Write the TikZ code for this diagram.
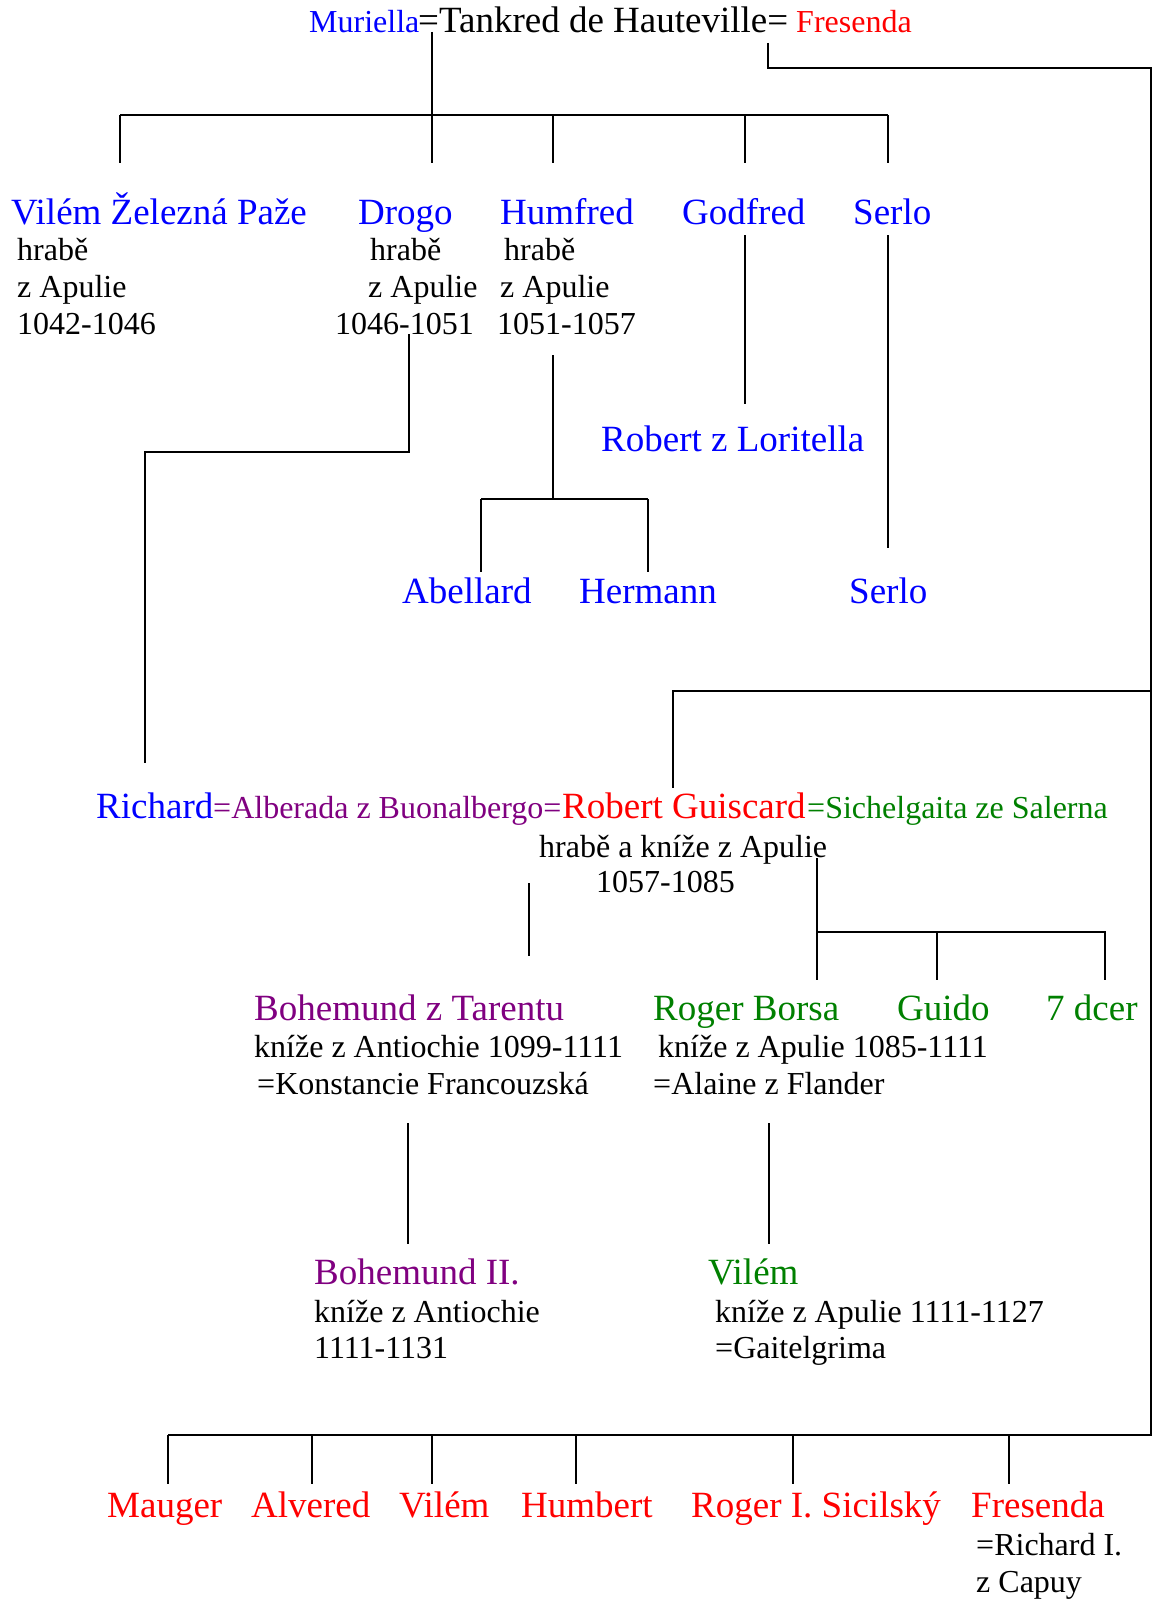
\documentclass[tikz,border=0pt]{standalone}
\usepackage{fontspec}
\setmainfont{Liberation Serif}
\definecolor{nblue}{RGB}{0,0,255}
\definecolor{nred}{RGB}{255,0,0}
\definecolor{npurple}{RGB}{128,0,128}
\definecolor{ngreen}{RGB}{0,128,0}
\tikzset{
  bigname/.style={font=\fontsize{37}{40}\selectfont, anchor=base west, inner sep=0pt},
  smalltext/.style={font=\fontsize{32}{36}\selectfont, anchor=base west, inner sep=0pt},
  tree/.style={line width=1.3pt}
}
\begin{document}
\begin{tikzpicture}[x=1pt,y=-1pt]
\useasboundingbox (0,0) rectangle (1153,1600);
% Tankred and wives
\node[smalltext, nblue] at (309,33) (muriella) {Muriella};
\node[bigname] at (418,33) (tankred) {=Tankred de Hauteville=};
\node[smalltext, nred] at (796,33) (fresenda) {Fresenda};
% sons of Muriella
\node[bigname, nblue] at (11,224) (vilem) {Vilém Železná Paže};
\node[smalltext] at (17,260) (vilemA) {hrabě};
\node[smalltext] at (17,297) (vilemB) {z Apulie};
\node[smalltext] at (17,334) (vilemC) {1042-1046};
\node[bigname, nblue] at (358,224) (drogo) {Drogo};
\node[smalltext] at (370,260) (drogoA) {hrabě};
\node[smalltext] at (368,297) (drogoB) {z Apulie};
\node[smalltext] at (335,334) (drogoC) {1046-1051};
\node[bigname, nblue] at (500,224) (humfred) {Humfred};
\node[smalltext] at (504,260) (humfredA) {hrabě};
\node[smalltext] at (500,297) (humfredB) {z Apulie};
\node[smalltext] at (497,334) (humfredC) {1051-1057};
\node[bigname, nblue] at (682,224) (godfred) {Godfred};
\node[bigname, nblue] at (853,224) (serlo) {Serlo};
% grandsons
\node[bigname, nblue] at (601,451) (loritella) {Robert z Loritella};
\node[bigname, nblue] at (402,603) (abellard) {Abellard};
\node[bigname, nblue] at (579,603) (hermann) {Hermann};
\node[bigname, nblue] at (849,603) (serloB) {Serlo};
% Robert Guiscard
\node[bigname, nblue] at (96,818) (richard) {Richard};
\node[smalltext, npurple] at (213,818) (alberada) {=Alberada z Buonalbergo=};
\node[bigname, nred] at (562,818) (guiscard) {Robert Guiscard};
\node[smalltext, ngreen] at (807,818) (sichelgaita) {=Sichelgaita ze Salerna};
\node[smalltext] at (539,857) (guiscardA) {hrabě a kníže z Apulie};
\node[smalltext] at (596,892) (guiscardB) {1057-1085};
% children of Robert
\node[bigname, npurple] at (254,1020) (bohemund) {Bohemund z Tarentu};
\node[smalltext] at (254,1057) (bohemundA) {kníže z Antiochie 1099-1111};
\node[smalltext] at (257,1094) (bohemundB) {=Konstancie Francouzská};
\node[bigname, ngreen] at (653,1020) (borsa) {Roger Borsa};
\node[smalltext] at (658,1057) (borsaA) {kníže z Apulie 1085-1111};
\node[smalltext] at (653,1094) (borsaB) {=Alaine z Flander};
\node[bigname, ngreen] at (897,1020) (guido) {Guido};
\node[bigname, ngreen] at (1046,1020) (dcer) {7 dcer};
\node[bigname, npurple] at (314,1284) (bohemundII) {Bohemund II.};
\node[smalltext] at (314,1322) (bohemundIIA) {kníže z Antiochie};
\node[smalltext] at (314,1358) (bohemundIIB) {1111-1131};
\node[bigname, ngreen] at (708,1284) (vilemB2) {Vilém};
\node[smalltext] at (715,1322) (vilemB2A) {kníže z Apulie 1111-1127};
\node[smalltext] at (715,1358) (vilemB2B) {=Gaitelgrima};
% sons of Fresenda
\node[bigname, nred] at (107,1517) (mauger) {Mauger};
\node[bigname, nred] at (251,1517) (alvered) {Alvered};
\node[bigname, nred] at (399,1517) (vilemF) {Vilém};
\node[bigname, nred] at (521,1517) (humbert) {Humbert};
\node[bigname, nred] at (691,1517) (rogerI) {Roger I. Sicilský};
\node[bigname, nred] at (971,1517) (fresendaB) {Fresenda};
\node[smalltext] at (976,1555) (fresendaA) {=Richard I.};
\node[smalltext] at (976,1592) (fresendaC) {z Capuy};
% junction points
\coordinate (tk) at (432,32);
\coordinate (barL) at (120,115);
\coordinate (barR) at (888,115);
\coordinate (fr) at (768,43);
\coordinate (edge) at (1151,68);
\coordinate (bot) at (1151,1435);
\coordinate (botL) at (168,1435);
\coordinate (rg) at (673,788);
\coordinate (dr) at (409,334);
\coordinate (ri) at (145,763);
\coordinate (hu) at (553,355);
\coordinate (huL) at (481,499);
\coordinate (huR) at (648,499);
\coordinate (go) at (745,235);
\coordinate (goB) at (745,404);
\coordinate (se) at (888,235);
\coordinate (seB) at (888,548);
\coordinate (bo) at (529,883);
\coordinate (boB) at (529,956);
\coordinate (rb) at (817,858);
\coordinate (rbR) at (1105,932);
\coordinate (b2) at (408,1123);
\coordinate (v2) at (769,1123);
% Draw the paths
\draw[tree] (tk) -- (tk |- barL);
\draw[tree] (barL) -- (barR);
\foreach \x in {120,432,553,745,888} \draw[tree] (barL -| \x,0) -- ++(0,48);
\draw[tree] (fr) |- (edge) -- (bot) -- (botL);
\foreach \x in {168,312,432,576,793,1009} \draw[tree] (botL -| \x,0) -- ++(0,49);
\draw[tree] (edge |- 0,691) -| (rg);
\draw[tree] (dr) -- (dr |- 0,452) -| (ri);
\draw[tree] (hu) -- (hu |- huL);
\draw[tree] (huL) -- (huR);
\draw[tree] (huL) -- ++(0,73);
\draw[tree] (huR) -- ++(0,73);
\draw[tree] (go) -- (goB);
\draw[tree] (se) -- (seB);
\draw[tree] (bo) -- (boB);
\draw[tree] (rb) -- (rb |- 0,980);
\draw[tree] (rb |- rbR) -- (rbR) -- ++(0,48);
\draw[tree] (937,932) -- (937,980);
\draw[tree] (b2) -- ++(0,121);
\draw[tree] (v2) -- ++(0,121);
\end{tikzpicture}
\end{document}
